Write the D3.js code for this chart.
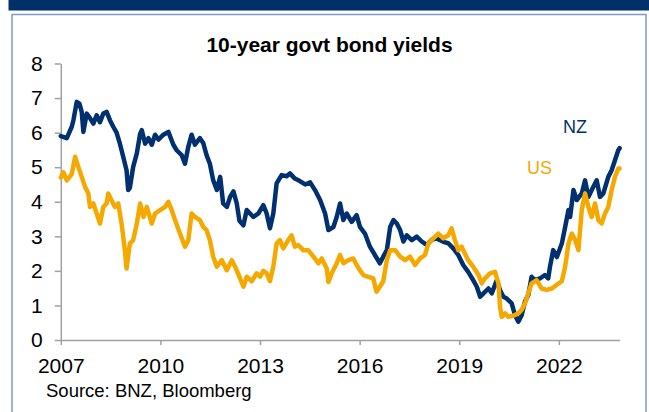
<!DOCTYPE html>
<html>
<head>
<meta charset="utf-8">
<script src="https://cdn.jsdelivr.net/npm/d3@7"></script>
<style>
  body { margin: 0; background: #fff; }
  svg { display: block; font-family: "Liberation Sans", Arial, sans-serif; }
</style>
</head>
<body>
<svg id="chart" width="649" height="412"></svg>
<script>
// 10-year govt bond yields (decimal year, %)
const nzYears = [2007.0, 2007.18, 2007.33, 2007.38, 2007.48, 2007.56, 2007.63, 2007.68, 2007.78, 2007.88, 2007.98,
  2008.08, 2008.18, 2008.28, 2008.38, 2008.48, 2008.58, 2008.68, 2008.78, 2008.88, 2008.98,
  2009.03, 2009.08, 2009.18, 2009.29, 2009.39, 2009.44, 2009.54, 2009.64, 2009.74, 2009.84, 2009.94,
  2010.09, 2010.24, 2010.39, 2010.49, 2010.64, 2010.74, 2010.84, 2010.94,
  2011.04, 2011.19, 2011.29, 2011.39, 2011.49, 2011.59, 2011.70, 2011.80, 2011.89,
  2012.00, 2012.10, 2012.20, 2012.30, 2012.38, 2012.50, 2012.60, 2012.70, 2012.80, 2012.95,
  2013.10, 2013.20, 2013.30, 2013.40, 2013.50, 2013.65, 2013.80, 2013.90,
  2014.05, 2014.20, 2014.36, 2014.51, 2014.66, 2014.81, 2014.96,
  2015.06, 2015.21, 2015.31, 2015.41, 2015.51, 2015.61, 2015.76, 2015.91,
  2016.01, 2016.16, 2016.31, 2016.46, 2016.61, 2016.71, 2016.82, 2016.92,
  2017.02, 2017.12, 2017.22, 2017.32, 2017.42, 2017.57, 2017.72, 2017.87,
  2018.02, 2018.17, 2018.32, 2018.52, 2018.67, 2018.82, 2018.97,
  2019.12, 2019.27, 2019.42, 2019.53, 2019.63, 2019.73, 2019.88, 2019.98,
  2020.13, 2020.23, 2020.33, 2020.43, 2020.58, 2020.68, 2020.78, 2020.88, 2020.98,
  2021.08, 2021.18, 2021.28, 2021.43, 2021.58, 2021.68, 2021.73, 2021.83, 2021.94,
  2022.09, 2022.19, 2022.29, 2022.34, 2022.44, 2022.54, 2022.69, 2022.79, 2022.89, 2022.99,
  2023.14, 2023.24, 2023.34, 2023.49, 2023.59, 2023.69, 2023.79, 2023.83];
const nzYields = [5.9, 5.84, 6.17, 6.36, 6.89, 6.84, 6.6, 6.02, 6.55, 6.42, 6.26,
  6.5, 6.3, 6.55, 6.6, 6.36, 6.17, 6.0, 5.68, 5.3, 4.91,
  4.34, 4.4, 5.01, 5.4, 5.97, 6.07, 5.68, 5.84, 5.65, 5.94, 5.8,
  5.94, 6.02, 5.65, 5.49, 5.35, 5.1, 5.59, 5.94,
  5.65, 5.84, 5.7, 5.35, 5.1, 4.62, 4.34, 4.72, 3.95,
  3.85, 4.14, 4.3, 3.95, 3.45, 3.32, 3.76, 3.66, 3.56, 3.66,
  3.9, 3.66, 3.23, 3.66, 4.53, 4.77, 4.74, 4.82,
  4.67, 4.6, 4.5, 4.56, 4.33, 4.05, 3.66,
  3.18, 3.27, 3.56, 3.95, 3.47, 3.66, 3.42, 3.61,
  3.27, 3.08, 2.7, 2.46, 2.22, 2.41, 2.6, 3.27,
  3.47, 3.37, 3.18, 2.85, 3.03, 2.89, 2.99, 2.85,
  2.75, 2.9, 2.94, 2.84, 2.8, 2.65, 2.46,
  2.17, 1.97, 1.73, 1.54, 1.25, 1.35, 1.49, 1.35,
  1.73, 1.44, 1.25, 1.2, 1.06, 0.72, 0.53, 0.72, 1.11,
  1.3, 1.83, 1.73, 1.78, 1.88, 1.78, 2.1, 2.6, 2.4,
  2.79, 3.27, 3.76, 3.56, 4.34, 4.05, 4.24, 4.62, 4.14, 4.34,
  4.62, 4.14, 4.24, 4.72, 4.91, 5.2, 5.49, 5.55];

const usYears = [2007.0, 2007.08, 2007.18, 2007.33, 2007.43, 2007.53, 2007.63, 2007.73, 2007.83, 2007.88, 2007.98,
  2008.08, 2008.18, 2008.28, 2008.38, 2008.43, 2008.53, 2008.63, 2008.73, 2008.83, 2008.93, 2008.98,
  2009.08, 2009.18, 2009.29, 2009.39, 2009.49, 2009.59, 2009.74, 2009.84, 2009.99,
  2010.14, 2010.24, 2010.34, 2010.44, 2010.59, 2010.74, 2010.84, 2010.94,
  2011.04, 2011.19, 2011.29, 2011.39, 2011.49, 2011.59, 2011.70, 2011.85,
  2012.00, 2012.15, 2012.25, 2012.38, 2012.50, 2012.60, 2012.75, 2012.90,
  2013.00, 2013.10, 2013.20, 2013.30, 2013.40, 2013.50, 2013.60, 2013.70, 2013.85, 2013.95,
  2014.05, 2014.15, 2014.30, 2014.45, 2014.61, 2014.76, 2014.86,
  2015.01, 2015.06, 2015.16, 2015.31, 2015.41, 2015.51, 2015.66, 2015.81, 2015.91,
  2016.01, 2016.11, 2016.26, 2016.41, 2016.51, 2016.61, 2016.71, 2016.82, 2016.92,
  2017.07, 2017.22, 2017.37, 2017.52, 2017.67, 2017.82, 2017.97,
  2018.07, 2018.22, 2018.37, 2018.52, 2018.67, 2018.77, 2018.87, 2018.97,
  2019.07, 2019.17, 2019.27, 2019.42, 2019.58, 2019.68, 2019.77, 2019.93,
  2020.08, 2020.18, 2020.23, 2020.28, 2020.38, 2020.48, 2020.63, 2020.78, 2020.88, 2020.98,
  2021.08, 2021.18, 2021.33, 2021.48, 2021.63, 2021.79, 2021.94,
  2022.09, 2022.19, 2022.29, 2022.39, 2022.49, 2022.59, 2022.69, 2022.79, 2022.89, 2022.99,
  2023.09, 2023.19, 2023.29, 2023.39, 2023.49, 2023.59, 2023.69, 2023.79, 2023.83];
const usYields = [4.7, 4.85, 4.62, 4.8, 5.3, 5.0, 4.72, 4.43, 4.24, 3.85, 3.95,
  3.66, 3.37, 3.85, 3.95, 4.24, 4.04, 3.85, 3.95, 3.37, 2.6, 2.07,
  2.79, 2.89, 3.37, 3.95, 3.56, 3.85, 3.37, 3.66, 3.76,
  3.85, 4.0, 3.76, 3.47, 3.08, 2.7, 2.89, 3.66,
  3.56, 3.47, 3.27, 3.18, 2.89, 2.41, 2.12, 2.31,
  2.02, 2.31, 2.12, 1.83, 1.54, 1.83, 1.7, 1.93,
  1.83, 2.0, 1.93, 1.7, 2.12, 2.79, 2.89, 2.65, 2.89, 3.03,
  2.7, 2.75, 2.6, 2.6, 2.41, 2.22, 2.36,
  2.07, 1.68, 1.93, 2.22, 2.46, 2.22, 2.31, 2.36, 2.17,
  2.02, 1.88, 1.83, 1.78, 1.4, 1.54, 1.7, 2.31, 2.6,
  2.6, 2.41, 2.31, 2.41, 2.17, 2.36, 2.46,
  2.79, 2.94, 3.08, 2.94, 3.03, 3.23, 2.89, 2.6,
  2.7, 2.5, 2.31, 2.12, 1.88, 1.64, 1.78, 1.93,
  1.97, 1.64, 0.96, 0.67, 0.77, 0.67, 0.7, 0.77, 0.87, 1.06,
  1.35, 1.64, 1.73, 1.49, 1.45, 1.49, 1.6,
  1.7, 2.12, 2.79, 3.08, 2.89, 2.6, 3.76, 4.24, 3.85, 3.56,
  3.95, 3.47, 3.37, 3.66, 3.85, 4.34, 4.72, 4.96, 4.96];

const yTicks = [0, 1, 2, 3, 4, 5, 6, 7, 8];
const xTicks = [2007, 2010, 2013, 2016, 2019, 2022];

const nzColor = "#00306f";
const usColor = "#f5a800";

const svg = d3.select("#chart");

// header strip and frame
svg.append("rect")
    .attr("x", 8.5).attr("y", 0)
    .attr("width", 641).attr("height", 10.5)
    .attr("fill", "#003069");

svg.append("rect")
    .attr("x", 12).attr("y", 14.5)
    .attr("width", 634).attr("height", 420)
    .attr("fill", "#fff")
    .attr("stroke", "#7f9cc8")
    .attr("stroke-width", 1.5);

const x = d3.scaleLinear().domain([2007, 2023.83]).range([60.8, 619.6]);
const y = d3.scaleLinear().domain([0, 8]).range([340, 63.5]);

// title
svg.append("text")
    .attr("x", 329.5).attr("y", 52)
    .attr("text-anchor", "middle")
    .attr("font-size", "21px")
    .attr("font-weight", "bold")
    .attr("fill", "#000")
    .text("10-year govt bond yields");

// axes
const yAxis = svg.append("g")
    .attr("transform", `translate(${x.range()[0]},0)`)
    .call(d3.axisLeft(y).tickValues(yTicks).tickSize(6).tickSizeOuter(0).tickPadding(12));

const xAxis = svg.append("g")
    .attr("transform", `translate(0,${y(0)})`)
    .call(d3.axisBottom(x).tickValues(xTicks).tickFormat(d3.format("d")).tickSize(5).tickSizeOuter(0));

[yAxis, xAxis].forEach(a => {
    a.selectAll("path, line").attr("stroke", "#a0a0a0").attr("stroke-width", 1.5);
    a.selectAll("text")
        .attr("fill", "#000")
        .attr("font-size", "21px")
        .attr("font-family", "'Liberation Sans', Arial, sans-serif");
});
xAxis.selectAll("text").attr("dy", null).attr("y", 33);

// lines
const line = d3.line()
    .x(d => x(d[0]))
    .y(d => y(d[1]));

function drawSeries(years, values, color) {
    svg.append("path")
        .datum(years.map((yr, i) => [yr, values[i]]))
        .attr("d", line)
        .attr("fill", "none")
        .attr("stroke", color)
        .attr("stroke-width", 4.5)
        .attr("stroke-linejoin", "round")
        .attr("stroke-linecap", "round");
}

drawSeries(nzYears, nzYields, nzColor);
drawSeries(usYears, usYields, usColor);

// series labels
svg.append("text")
    .attr("x", 563).attr("y", 133)
    .attr("font-size", "18px")
    .attr("fill", nzColor)
    .text("NZ");

svg.append("text")
    .attr("x", 527).attr("y", 174)
    .attr("font-size", "18px")
    .attr("fill", usColor)
    .text("US");

// source
svg.append("text")
    .attr("x", 46).attr("y", 397)
    .attr("font-size", "18.5px")
    .attr("fill", "#000")
    .text("Source: BNZ, Bloomberg");
</script>
</body>
</html>
